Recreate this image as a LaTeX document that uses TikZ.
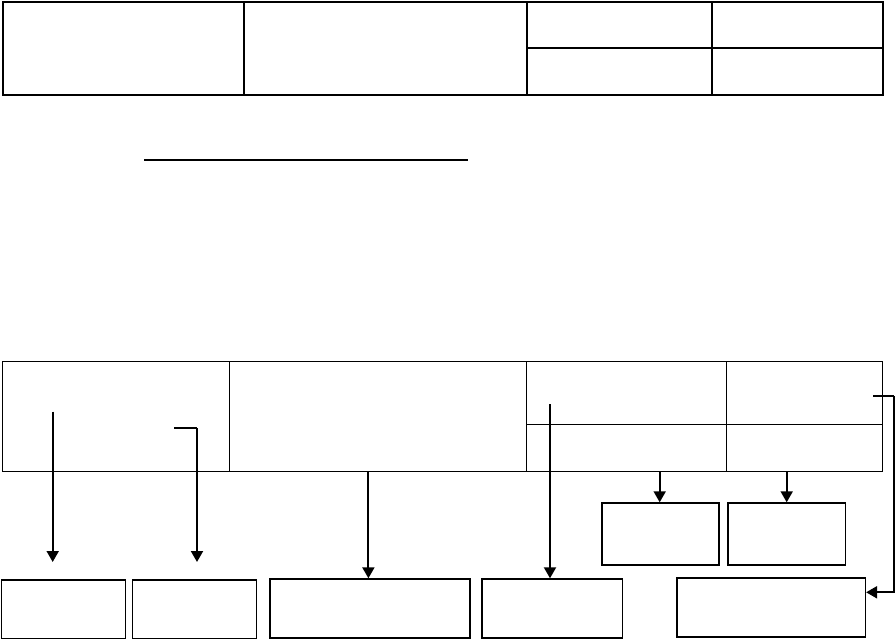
\documentclass[tikz,border=0pt]{standalone}
\usetikzlibrary{arrows.meta}
\tikzset{
  cellA/.style={draw, line width=2pt, inner sep=0pt, anchor=north west},
  cellB/.style={draw, line width=1.4pt, inner sep=0pt, anchor=north west},
  boxc/.style={draw, line width=1.4pt, inner sep=0pt, anchor=north west},
  conn/.style={line width=2pt, -{Triangle[width=12pt,length=11pt]}},
  plain/.style={line width=2pt}
}
\newcommand{\cellat}[6]{\node[#1, minimum width=#4pt, minimum height=#5pt] (#2) at #3 {};}
\begin{document}
\begin{tikzpicture}[x=1pt,y=-1pt]
\useasboundingbox (0,0) rectangle (895,639);
% top table
\node[cellA, minimum width=241pt, minimum height=93pt] (t1) at (2,1) {};
\node[cellA, minimum width=283pt, minimum height=93pt] (t2) at (243,1) {};
\node[cellA, minimum width=185pt, minimum height=46pt] (t3) at (526,1) {};
\node[cellA, minimum width=171pt, minimum height=46pt] (t4) at (711,1) {};
\node[cellA, minimum width=185pt, minimum height=47pt] (t5) at (526,47) {};
\node[cellA, minimum width=171pt, minimum height=47pt] (t6) at (711,47) {};
% underline
\coordinate (u1) at (144,160);
\coordinate (u2) at (468,160);
\draw[plain] (u1) -- (u2);
% bottom table
\node[cellB, minimum width=227pt, minimum height=110pt] (c1) at (2,361) {};
\node[cellB, minimum width=297pt, minimum height=110pt] (c2) at (229,361) {};
\node[cellB, minimum width=199.5pt, minimum height=63pt] (c3) at (526,361) {};
\node[cellB, minimum width=156pt, minimum height=63pt] (c4) at (725.5,361) {};
\node[cellB, minimum width=199.5pt, minimum height=47pt] (c5) at (526,424) {};
\node[cellB, minimum width=156pt, minimum height=47pt] (c6) at (725.5,424) {};
% lower boxes
\node[boxc, minimum width=124pt, minimum height=59pt] (b1) at (0.7,579.3) {};
\node[boxc, minimum width=124pt, minimum height=59pt] (b2) at (131.7,579.3) {};
\node[boxc, minimum width=200pt, minimum height=59pt] (b3) at (269.3,578.3) {};
\node[boxc, minimum width=140.4pt, minimum height=59pt] (b4) at (481.3,578.3) {};
\node[boxc, minimum width=117pt, minimum height=62pt] (b5) at (601.3,502.3) {};
\node[boxc, minimum width=117.4pt, minimum height=62pt] (b6) at (727.3,502.3) {};
\node[boxc, minimum width=188.4pt, minimum height=59pt] (b7) at (676.3,577.3) {};
% connectors
\coordinate (a1s) at (52.7,411.7);
\coordinate (a1e) at (52.7,562);
\draw[conn] (a1s) -- (a1e);
\coordinate (a2k) at (174,428);
\coordinate (a2s) at (197,428);
\coordinate (a2e) at (197,562);
\draw[plain] (a2k) -- (a2s);
\draw[conn] (a2s) -- (a2e);
\draw[conn] (c2.south -| b3.north) ++(-1.6,0) coordinate (a3s) -- (a3s |- b3.north);
\coordinate (a4s) at (550,404);
\draw[conn] (a4s) -- (a4s |- b4.north);
\draw[conn] (c5.south -| b5.north) ++(-0.8,0) coordinate (a5s) -- (a5s |- b5.north);
\draw[conn] (c6.south -| b6.north) coordinate (a6s) -- (a6s |- b6.north);
\coordinate (a7k) at (873.3,396);
\coordinate (a7s) at (894,396);
\coordinate (a7e) at (b7.north east |- 0,592.3);
\draw[plain] (a7k) -- (a7s);
\draw[conn] (a7s) |- (a7e -| b7.east);
\end{tikzpicture}
\end{document}
